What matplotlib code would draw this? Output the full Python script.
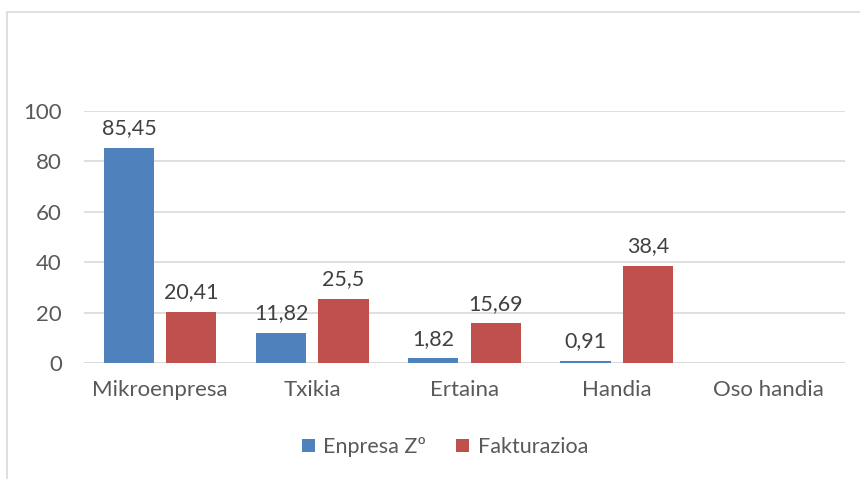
import numpy as np
import matplotlib.pyplot as plt
from matplotlib.patches import Rectangle

categories = ["Mikroenpresa", "Txikia", "Ertaina", "Handia", "Oso handia"]
enpresa = [85.45, 11.82, 1.82, 0.91, np.nan]
fakturazioa = [20.41, 25.5, 15.69, 38.4, np.nan]
series_names = ["Enpresa Zº", "Fakturazioa"]
yticks = [0, 20, 40, 60, 80, 100]


def fmt(v):
    return ("%g" % v).replace(".", ",")


def main():
    plt.rcParams["font.family"] = ["Lato", "DejaVu Sans"]
    fig = plt.figure(figsize=(8.6, 4.79), dpi=100)
    # chart border (cropped on right/bottom)
    fig.patches.append(Rectangle((7 / 860, -0.1), 1.2, 1 - 12 / 479 + 0.1,
                                 transform=fig.transFigure, fill=False,
                                 edgecolor="#D9D9D9", linewidth=1.2))

    ax = fig.add_axes([84 / 860, 1 - 363 / 479, (845 - 84) / 860, (363 - 111) / 479])
    x = np.arange(len(categories))
    w = 0.33
    off = 0.205
    b1 = ax.bar(x - off, enpresa, w, color="#4F81BD", label=series_names[0], zorder=3)
    b2 = ax.bar(x + off, fakturazioa, w, color="#C0504D", label=series_names[1], zorder=3)

    for bars, vals in ((b1, enpresa), (b2, fakturazioa)):
        for r, v in zip(bars, vals):
            if np.isnan(v):
                continue
            ax.annotate(fmt(v), (r.get_x() + r.get_width() / 2, v),
                        xytext=(0, 7), textcoords="offset points",
                        ha="center", va="bottom", fontsize=15.5, color="#404040")

    ax.set_xlim(-0.5, len(categories) - 0.5)
    ax.set_ylim(0, 100)
    ax.set_yticks(yticks)
    ax.set_xticks(x)
    ax.set_xticklabels(categories)
    ax.tick_params(axis="both", length=0, labelsize=16, colors="#595959")
    ax.tick_params(axis="x", pad=12)
    ax.tick_params(axis="y", pad=16)
    ax.grid(axis="y", color="#D9D9D9", linewidth=1.2, zorder=0)
    for s in ax.spines.values():
        s.set_visible(False)
    ax.axhline(0, color="#D9D9D9", linewidth=1.2, zorder=2)

    fig.legend(loc="center", bbox_to_anchor=(445 / 860, 1 - 447 / 479), ncol=2,
               frameon=False, fontsize=15.5, labelcolor="#595959",
               handlelength=0.6, handleheight=0.6, handletextpad=0.4,
               columnspacing=1.4)

    fig.savefig("out.png", dpi=100, facecolor="white")


if __name__ == "__main__":
    main()
